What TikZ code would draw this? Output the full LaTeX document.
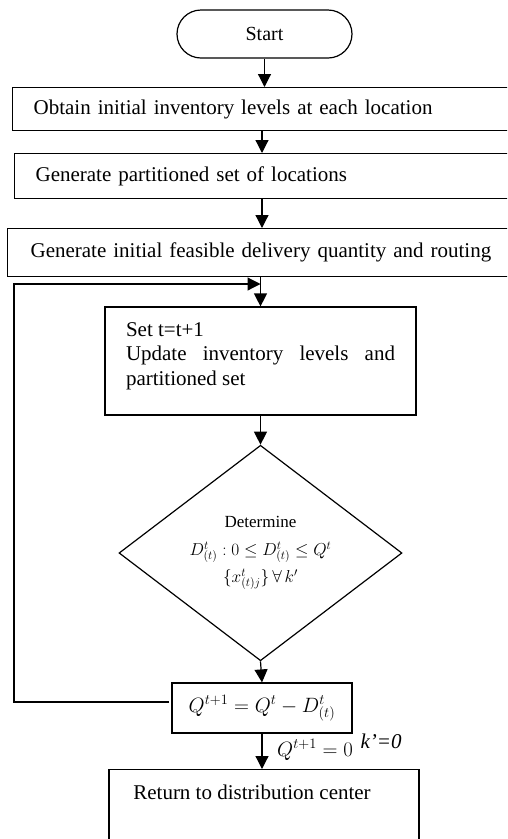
\documentclass[tikz,border=0pt]{standalone}
\usepackage{fontspec}
\setmainfont{Liberation Serif}
\usetikzlibrary{arrows.meta,shapes.geometric,calc}
\begin{document}
\begin{tikzpicture}[x=1pt,y=-1pt,
  line width=1.2pt,
  arr/.style={-{Triangle[length=13pt,width=13pt]}},
  widebox/.style={draw,anchor=north west,inner xsep=21pt,inner ysep=0pt,align=left,
     font=\fontsize{21}{25}\selectfont},
  proc/.style={draw,inner sep=0pt,font=\fontsize{21}{25}\selectfont},
  startbox/.style={draw,rounded corners=24pt,minimum width=175pt,minimum height=48pt,inner sep=0pt,
     font=\fontsize{20}{24}\selectfont},
  decision/.style={draw,diamond,inner sep=0pt,minimum width=283pt,minimum height=199pt,
     align=center,font=\fontsize{17}{22}\selectfont}]
\useasboundingbox (0,0) rectangle (507,839);
\clip (0,0) rectangle (507,839);
% nodes
\node[startbox] (start) at (264.5,34) {Start};
\node[widebox,minimum width=508pt,minimum height=43pt,text width=466pt] (b1) at (12,87)
  {Obtain initial inventory levels at each location};
\node[widebox,minimum width=506pt,minimum height=45pt,text width=464pt] (b2) at (14,153)
  {Generate partitioned set of locations};
\node[widebox,minimum width=513pt,minimum height=48pt,text width=471pt,inner xsep=23pt] (b3) at (7,228)
  {Generate initial feasible delivery quantity and routing};
\node[proc,minimum width=311pt,minimum height=108pt,
  label={[yshift=5pt,text width=269pt,align=justify,font=\fontsize{21}{24.5}\selectfont]center:Set t=t+1\\Update inventory levels and\linebreak partitioned set}] (b4) at (260.5,361) {};
\node[decision] (d) at (260.5,553)
  {Determine\\[6pt]
   $D^{t}_{(t)}:0\le D^{t}_{(t)}\le Q^{t}$\\[5pt]
   $\{x^{t}_{(t)j}\}\,\forall\, k'$};
\node[proc,minimum width=180pt,minimum height=50pt] (b5) at (262,708)
  {$Q^{t+1}=Q^{t}-D^{t}_{(t)}$};
\node[proc,anchor=north,minimum width=310pt,minimum height=120pt,
  label={[anchor=north west,xshift=21pt,yshift=-12pt,font=\fontsize{21}{25}\selectfont]north west:Return to distribution center}] (b6) at (264,769) {};
\node[font=\fontsize{21}{25}\selectfont,inner sep=1pt] (lq) at (315,750) {$Q^{t+1}=0$};
\node[font=\fontsize{21}{25}\selectfont\itshape,inner sep=1pt] (lk) at (381,741) {k’=0};
% helper coordinates
\coordinate (ax) at (262,0);
\coordinate (fbtop) at (14,284);
\coordinate (fbbot) at (14,702);
\coordinate (fbend) at (169,702);
% connectors
\draw[arr] (start.south) -- (start.south |- b1.north);
\draw[arr] (ax |- b1.south) -- (ax |- b2.north);
\draw[arr] (ax |- b2.south) -- (ax |- b3.north);
\draw[arr] (b4.north |- b3.south) -- (b4.north);
\draw[arr] (fbend) -- (fbbot) -- (fbtop) -- (b4.north |- fbtop);
\draw[arr] (b4.south) -- (d.north);
\draw[arr] (d.south) -- (b5.north);
\draw[arr] (b5.south) -- (b5.south |- b6.north);
\end{tikzpicture}
\end{document}
